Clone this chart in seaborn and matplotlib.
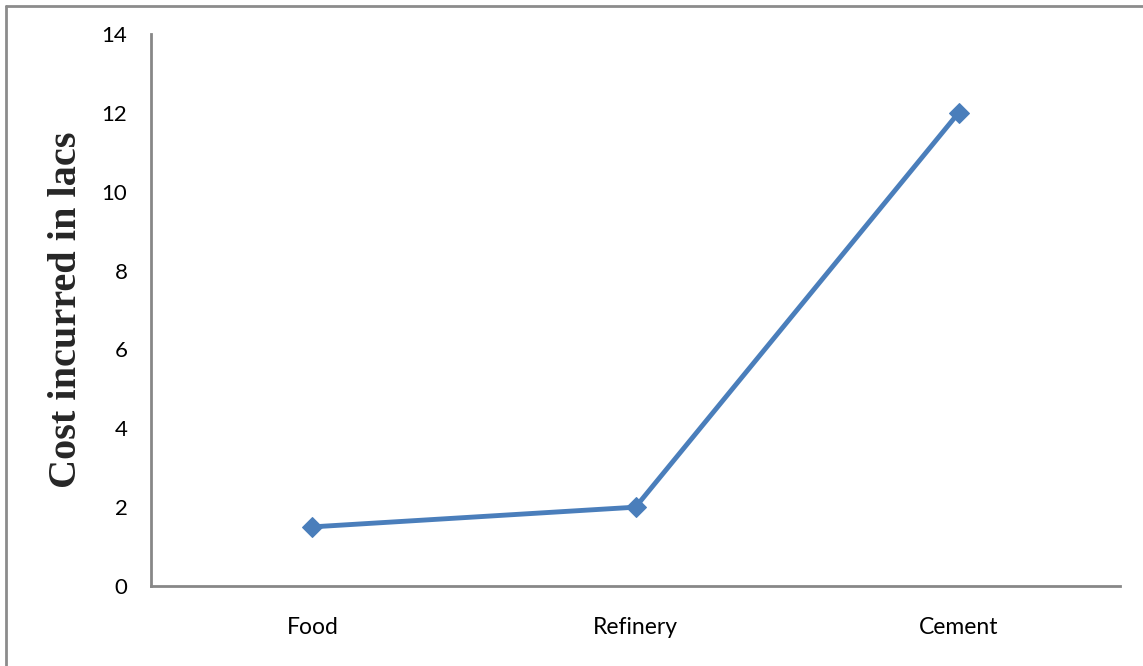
import matplotlib
matplotlib.use("Agg")
import matplotlib.pyplot as plt
import seaborn as sns
import pandas as pd
from matplotlib.lines import Line2D

industries = ["Food", "Refinery", "Cement"]
cost_lacs = [1.5, 2, 12]
y_ticks = [0, 2, 4, 6, 8, 10, 12, 14]

sns.set_style("white")
plt.rcParams["font.family"] = ["Lato", "DejaVu Sans"]

df = pd.DataFrame({"industry": industries, "cost": cost_lacs})

fig = plt.figure(figsize=(11.43, 6.66), dpi=100)
ax = fig.add_axes([0.1321, 0.1201, 0.8478, 0.8288])

sns.lineplot(data=df, x="industry", y="cost", ax=ax, sort=False,
             color="#4A7EBB", linewidth=3.5, marker="D", markersize=10,
             markeredgecolor="#4A7EBB")

ax.set_xlim(-0.5, 2.5)
ax.set_ylim(0, 14)
ax.set_yticks(y_ticks)
ax.set_yticklabels([str(t) for t in y_ticks])
ax.tick_params(axis="x", length=0, labelsize=16.5, colors="#000000", pad=22)
ax.tick_params(axis="y", length=0, labelsize=16, colors="#000000", pad=17)
ax.set_xlabel("")
ax.set_ylabel("Cost incurred in lacs", fontsize=29, fontweight="bold",
              family=["Liberation Serif", "DejaVu Serif"], labelpad=12)

for side in ["top", "right"]:
    ax.spines[side].set_visible(False)
for side in ["left", "bottom"]:
    ax.spines[side].set_color("#878787")
    ax.spines[side].set_linewidth(2)

# outer frame of the chart area
fig.add_artist(Line2D([0.0052, 0.0052], [0, 0.9917], transform=fig.transFigure,
                      color="#8c8c8c", linewidth=2))
fig.add_artist(Line2D([0.0052, 1.0], [0.9917, 0.9917], transform=fig.transFigure,
                      color="#8c8c8c", linewidth=2))

fig.savefig("out.png", dpi=100)
